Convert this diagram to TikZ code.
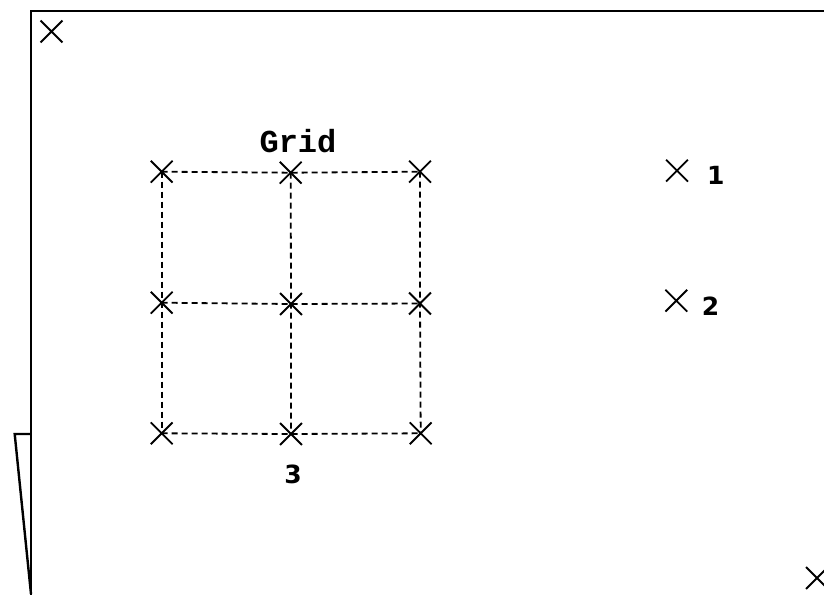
\documentclass[tikz,border=0pt]{standalone}
\usepackage{fontspec}
\usetikzlibrary{shapes.misc}
\newfontfamily\gridfont{Liberation Mono}
\newfontfamily\numfont{DejaVu Sans}
\tikzset{
  xmark/.style={cross out,draw,line width=1.8pt,inner sep=0pt,minimum width=20pt,minimum height=20pt},
  gline/.style={line width=1.8pt,dash pattern=on 6pt off 4pt},
  frame/.style={line width=2.4pt},
  numlabel/.style={font=\numfont\bfseries\fontsize{25}{29}\selectfont,inner sep=0pt},
  gridlabel/.style={font=\gridfont\bfseries\fontsize{32}{36}\selectfont,inner sep=0pt}
}
\begin{document}
\begin{tikzpicture}[x=1pt,y=-1pt]
\useasboundingbox (0,0) rectangle (824,594);
\clip (0,0) rectangle (824,594);
\fill[white] (0,0) rectangle (824,594);
% frame
\draw[frame] (31,700) -- (31,11) -- (900,11);
\draw[frame] (31,434) -- (14.7,434) -- (31,594);
% grid coordinates
\coordinate (g11) at (161.7,171.7);
\coordinate (g12) at (290.7,172.7);
\coordinate (g13) at (420,171.7);
\coordinate (g21) at (161.7,302.7);
\coordinate (g22) at (291,304);
\coordinate (g23) at (420,303.5);
\coordinate (g31) at (161.7,433.3);
\coordinate (g32) at (291,434);
\coordinate (g33) at (420.7,433.3);
% dashed grid lines
\draw[gline] (g11) -- (g12) -- (g13);
\draw[gline] (g21) -- (g22) -- (g23);
\draw[gline] (g31) -- (g32) -- (g33);
\draw[gline] (g11) -- (g21) -- (g31);
\draw[gline] (g12) -- (g22) -- (g32);
\draw[gline] (g13) -- (g23) -- (g33);
% crosses on grid
\foreach \n in {g11,g12,g13,g21,g22,g23,g31,g32,g33}
  \node[xmark] at (\n) {};
% other crosses
\node[xmark] (tl) at (51.5,31.5) {};
\node[xmark] (m1) at (677,170.7) {};
\node[xmark] (m2) at (676.3,300.7) {};
\node[xmark] (br) at (817,578) {};
% labels
\node[gridlabel] (gridlbl) at (298,141.5) {Grid};
\node[numlabel] (l1) at (715.8,175.8) {1};
\node[numlabel] (l2) at (710.5,306) {2};
\node[numlabel] (l3) at (293,474) {3};
\end{tikzpicture}
\end{document}
